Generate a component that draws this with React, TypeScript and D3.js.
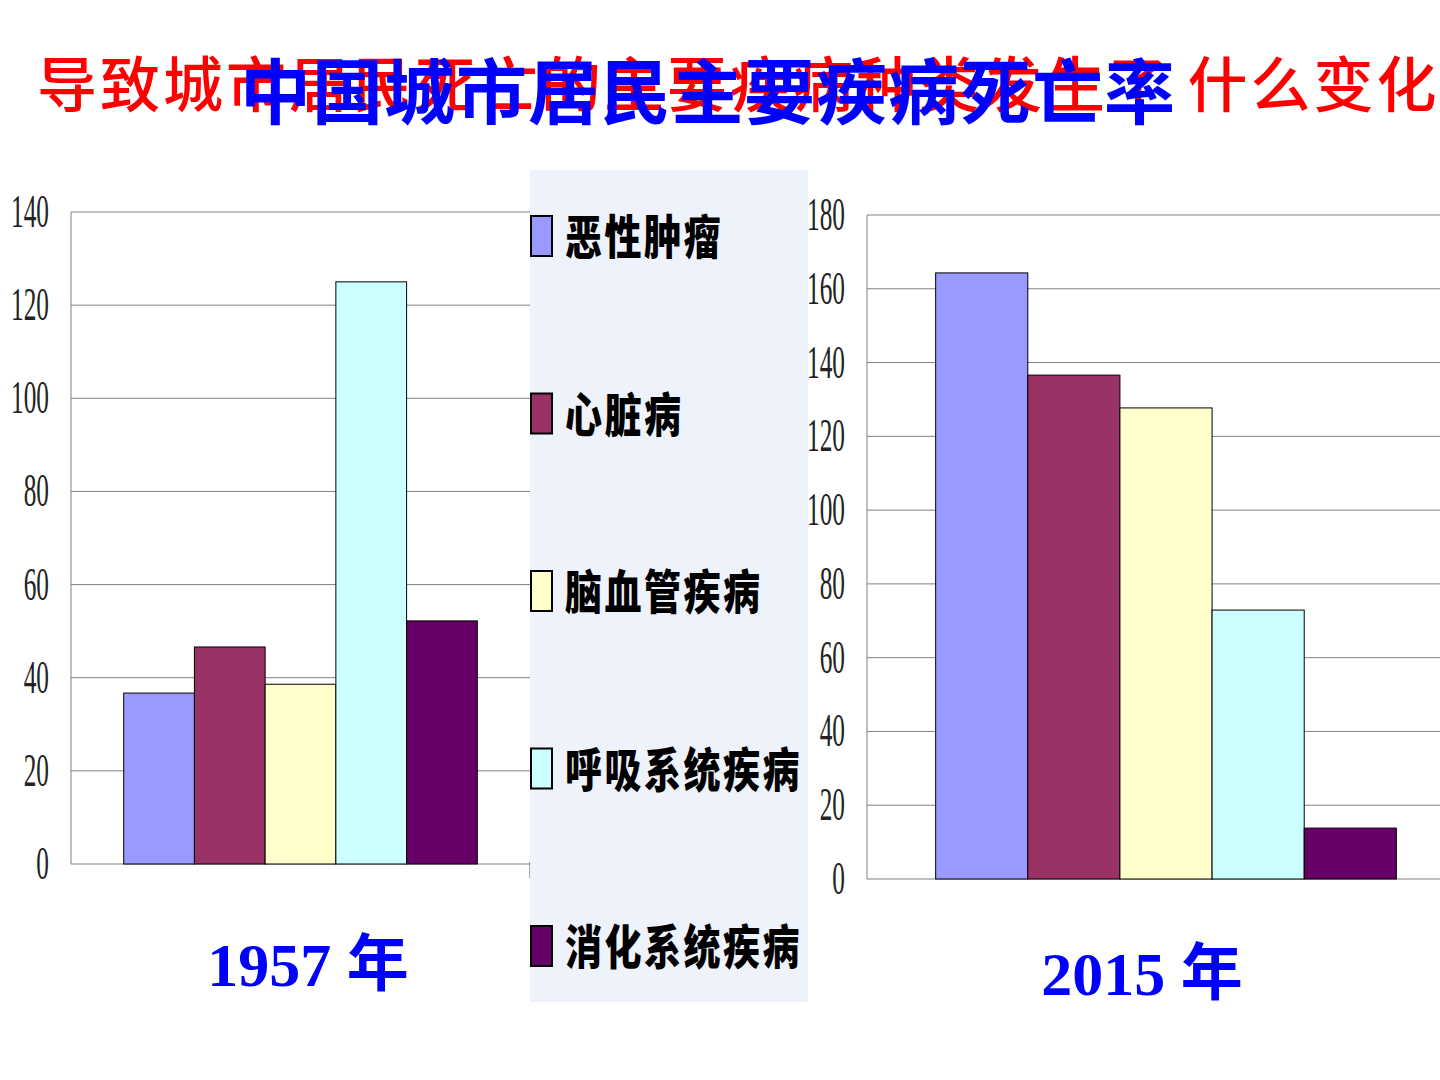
import * as d3 from "d3";

const diseases = ["恶性肿瘤", "心脏病", "脑血管疾病", "呼吸系统疾病", "消化系统疾病"];
const colors = ["#9999FF", "#993366", "#FFFFCC", "#CCFFFF", "#660066"];
const rates1957 = [36.7, 46.6, 38.6, 125, 52.2];
const rates2015 = [164.3, 136.6, 127.7, 72.9, 13.8];
const ticks1957 = [0, 20, 40, 60, 80, 100, 120, 140];
const ticks2015 = [0, 20, 40, 60, 80, 100, 120, 140, 160, 180];

const redTitle = "导致城市居民死亡的主要疾病种类发生了 什么变化";
const blueTitle = "中国城市居民主要疾病死亡率";

type PanelProps = {
  values: number[];
  ticks: number[];
  x0: number;
  x1: number;
  yTop: number;
  yBottom: number;
  year: string;
  yearX: number;
  yearY: number;
};

function Panel({ values, ticks, x0, x1, yTop, yBottom, year, yearX, yearY }: PanelProps) {
  const y = d3.scaleLinear().domain([0, d3.max(ticks)!]).range([yBottom, yTop]);
  // one category, gap between group and plot edges like excel's gap width
  const group = d3.scaleBand().domain(["g"]).range([x0, x1]).paddingOuter(0.149).paddingInner(0);
  const x = d3.scaleBand().domain(diseases).range([group("g")!, group("g")! + group.bandwidth()]);

  return (
    <g>
      {ticks.map((t) => (
        <g key={t}>
          <line x1={x0} x2={x1} y1={y(t)} y2={y(t)} stroke="#808080" strokeWidth={1} />
          <text
            transform={`translate(${x0 - 22},${y(t) + 15}) scale(0.55,1)`}
            textAnchor="end"
            fontFamily="'Liberation Serif', serif"
            fontSize={46}
            fill="#222"
          >
            {t}
          </text>
        </g>
      ))}
      <line x1={x0} x2={x0} y1={yTop} y2={yBottom} stroke="#808080" strokeWidth={1} />
      <line x1={x1} x2={x1} y1={yBottom - 2} y2={yBottom + 14} stroke="#555" strokeWidth={1} />
      {values.map((v, i) => (
        <rect
          key={diseases[i]}
          x={x(diseases[i])}
          y={y(v)}
          width={x.bandwidth()}
          height={yBottom - y(v)}
          fill={colors[i]}
          stroke="#000"
          strokeWidth={1}
        />
      ))}
      <text
        x={yearX}
        y={yearY}
        textAnchor="middle"
        fill="#0000FF"
        fontWeight="bold"
        fontSize={62}
        fontFamily="'Liberation Serif', 'Noto Sans CJK SC', serif"
      >
        {year}
      </text>
    </g>
  );
}

export default function App() {
  return (
    <svg
      width={1440}
      height={1080}
      style={{ position: "absolute", left: 0, top: 0, display: "block", background: "#fff" }}
    >
      <rect width={1440} height={1080} fill="#fff" />

      <Panel
        values={rates1957}
        ticks={ticks1957}
        x0={71}
        x1={530}
        yTop={212}
        yBottom={864}
        year="1957 年"
        yearX={308}
        yearY={986}
      />
      <Panel
        values={rates2015}
        ticks={ticks2015}
        x0={867}
        x1={1465}
        yTop={215}
        yBottom={879}
        year="2015 年"
        yearX={1142}
        yearY={995}
      />

      {/* legend box */}
      <rect x={530} y={170} width={278} height={832} fill="#EEF2FA" />
      {diseases.map((d, i) => {
        const cy = 236 + i * 177.5;
        return (
          <g key={d}>
            <rect x={531} y={cy - 20} width={21} height={40} fill={colors[i]} stroke="#000" strokeWidth={2} />
            <text
              transform={`translate(565,${cy + 18}) scale(1,1.25)`}
              fontFamily="'Noto Sans CJK SC', sans-serif"
              fontWeight={900}
              fontSize={37}
              letterSpacing={2.5}
              fill="#000"
            >
              {d}
            </text>
          </g>
        );
      })}

      {/* overlapping titles, as on the original slide */}
      <text
        x={37}
        y={107}
        fill="#FF0000"
        fontFamily="'Noto Sans CJK SC', sans-serif"
        fontWeight={500}
        fontSize={60}
        letterSpacing={3}
      >
        {redTitle}
      </text>
      <text
        x={240}
        y={118}
        fill="#0000FF"
        fontFamily="'Noto Sans CJK SC', sans-serif"
        fontWeight={700}
        fontSize={71}
        letterSpacing={1}
      >
        {blueTitle}
      </text>
    </svg>
  );
}
